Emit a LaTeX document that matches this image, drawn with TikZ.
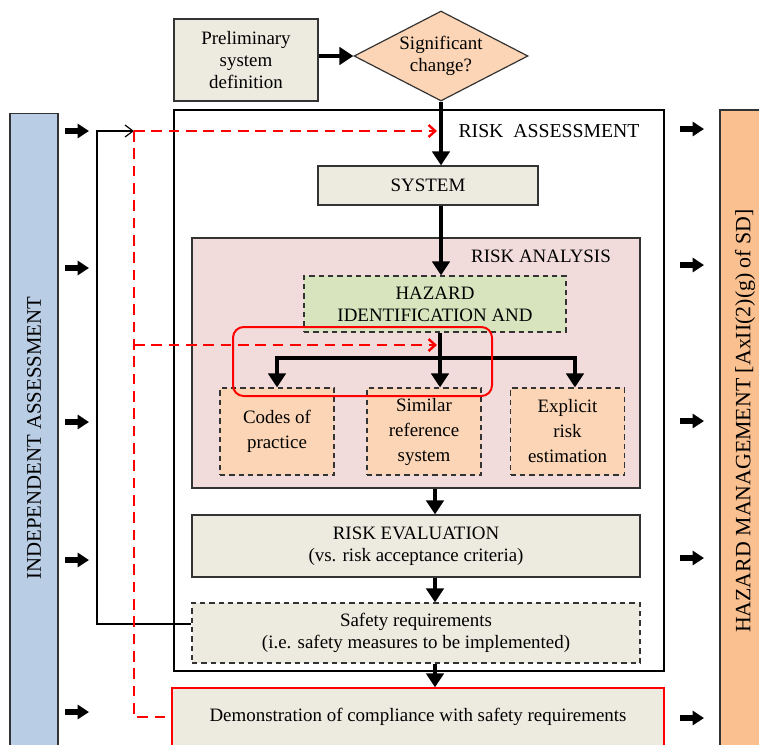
\documentclass[tikz,border=0pt]{standalone}
\usepackage{fontspec}
\setmainfont{Liberation Serif}
\usetikzlibrary{arrows.meta,shapes.geometric}

\definecolor{boxgray}{HTML}{EDEBE0}
\definecolor{peach}{HTML}{FBD5B5}
\definecolor{leafgreen}{HTML}{D7E4BD}
\definecolor{rosepink}{HTML}{F2DCDB}
\definecolor{steelblue}{HTML}{B9CDE5}
\definecolor{tanorange}{HTML}{FAC090}

\begin{document}
\begin{tikzpicture}[x=0.75pt,y=0.75pt]
		\tikzstyle{every node}+=[inner sep=0pt, align=center, font=\fontsize{14.2}{16.5}\selectfont]
		\tikzstyle{box}=[draw=black!80, line width=0.9pt, fill=boxgray]
		\tikzstyle{dbox}=[box, dash pattern=on 4pt off 3pt]
		\tikzstyle{leaf}=[draw=black!80, line width=0.9pt, dash pattern=on 4pt off 3pt, fill=peach, font=\fontsize{14.2}{18.75}\selectfont]
		\tikzstyle{thickline}=[line width=3.6pt]
		\tikzstyle{thickarrow}=[line width=3.6pt, -{Triangle[width=13pt,length=10.5pt]}]
		\tikzstyle{sidearrow}=[line width=4pt, -{Triangle[width=10.5pt,length=8.5pt]}]
		\tikzstyle{reddash}=[red, line width=1.8pt, dash pattern=on 8pt off 5pt]
		\clip (0,0) rectangle (759,-744);
		% side bars
		\node [draw=black!80, line width=0.9pt, fill=steelblue, minimum width=36pt, minimum height=485pt] (indep) at (34,-436.5) {};
		\node [rotate=90, font=\fontsize{15.6}{18}\selectfont] at (34,-438) {INDEPENDENT ASSESSMENT};
		\node [draw=black!80, line width=0.9pt, fill=tanorange, minimum width=45pt, minimum height=487.5pt] (hazman) at (750,-435) {};
		\node [rotate=90, font=\fontsize{16.4}{18}\selectfont] at (745,-421) {HAZARD MANAGEMENT [AxII(2)(g) of SD]};
		\foreach \y in {131,268,422,560,712} {
			\coordinate (la\y) at (65,-\y);
			\coordinate (lb\y) at (89,-\y);
			\draw [sidearrow] (la\y) -- (lb\y);
		}
		\foreach \y in {129,265,421,558,718} {
			\coordinate (ra\y) at (680,-\y);
			\coordinate (rb\y) at (704,-\y);
			\draw [sidearrow] (ra\y) -- (rb\y);
		}
		% top
		\node [box, minimum width=108pt, minimum height=61.5pt] (prelim) at (246,-60) {Preliminary\\system\\definition};
		\node [diamond, draw=black!80, line width=0.9pt, fill=peach, aspect=1.9, minimum width=130.5pt, minimum height=67.5pt] (dia) at (441,-56) {Significant\\change?};
		\draw [thickarrow] (prelim.east |- dia) -- (dia.west);
		% risk assessment
		\node [draw=black, line width=0.8pt, minimum width=367.5pt, minimum height=420.75pt] (assess) at (419,-390.5) {};
		\node [font=\fontsize{14.8}{16}\selectfont] at (549,-131) {RISK\enspace ASSESSMENT};
		\node [box, minimum width=165pt, minimum height=29.25pt] (sys) at (428,-185.5) {SYSTEM};
		\node [draw=black!80, line width=0.9pt, fill=rosepink, minimum width=336pt, minimum height=187.5pt] (ana) at (416,-363) {};
		\node at (541,-256) {RISK ANALYSIS};
		\node [dbox, fill=leafgreen, minimum width=196.5pt, minimum height=42pt] (hazard) at (435,-304) {HAZARD\\IDENTIFICATION AND};
		\node [leaf, minimum width=85.5pt, minimum height=65.25pt] (codes) at (277,-431.5) {Codes of\\practice};
		\node [leaf, minimum width=85.5pt, minimum height=65.25pt] (sim) at (424,-431.5) {Similar\\reference\\system};
		\node [leaf, minimum width=85.5pt, minimum height=65.25pt] (expl) at (567.5,-431.5) {Explicit\\risk\\estimation};
		\node [box, minimum width=336pt, minimum height=46.5pt] (eval) at (416,-546) {RISK EVALUATION\\(vs. risk acceptance criteria)};
		\node [dbox, minimum width=336pt, minimum height=45pt] (safe) at (416,-633) {Safety requirements\\(i.e. safety measures to be implemented)};
		\node [box, draw=red, line width=1pt, minimum width=369pt, minimum height=43.5pt] (demo) at (418,-717) {Demonstration of compliance with safety requirements};
		% main flow
		\draw [thickarrow] (dia.south) -- (dia.south |- sys.north);
		\draw [thickarrow] (sys.south -| dia.south) -- (hazard.north -| dia.south);
		\coordinate (br) at (440,-358);
		\coordinate (brr) at ([xshift=5.6pt]expl.north);
		\draw [thickline] (hazard.south -| br) -- (br);
		\draw [thickarrow] (br) -| (codes.north);
		\draw [thickarrow] (br) -| (brr);
		\draw [thickarrow] (br) -- (br |- sim.north);
		\draw [thickarrow] (ana.south -| hazard.south) -- (eval.north -| hazard.south);
		\draw [thickarrow] (eval.south -| hazard.south) -- (safe.north -| hazard.south);
		\draw [thickarrow] (safe.south -| hazard.south) -- (demo.north -| hazard.south);
		% feedback
		\coordinate (fb) at (97,-131);
		\coordinate (rd) at (134,-131);
		\coordinate (rm) at (134,-345);
		\draw [line width=0.9pt, -{Straight Barb[length=6pt,width=9pt]}] ([yshift=6.75pt]safe.west) -| (fb) -- (rd);
		\draw [reddash, -{Straight Barb[length=5pt,width=9pt]}] (rd) -- ([xshift=-3pt]rd -| dia.south);
		\draw [reddash, -{Straight Barb[length=5pt,width=9pt]}] (rm) -- ([xshift=-3pt]rm -| dia.south);
		\draw [reddash] (rd) |- (demo.west);
		\node [draw=red, line width=1.5pt, rounded corners=8pt, minimum width=194.25pt, minimum height=51.75pt] (focus) at (362.5,-361.5) {};
		\end{tikzpicture}
\end{document}
